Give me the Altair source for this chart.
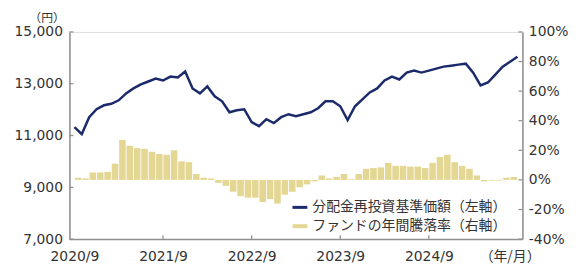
import altair as alt
import pandas as pd

# ---------------- data ----------------
# monthly index 0 = 2020/9 ... 60 = 2025/9
nav_month = list(range(61))
nav_values = [
    11325, 11057, 11708, 12014, 12167, 12225, 12359, 12627, 12818, 12971,
    13086, 13201, 13124, 13277, 13239, 13469, 12818, 12627, 12895, 12512,
    12320, 11899, 11976, 12014, 11517, 11363, 11631, 11478, 11708, 11823,
    11746, 11823, 11899, 12052, 12320, 12320, 12129, 11593, 12129, 12397,
    12665, 12818, 13124, 13277, 13163, 13430, 13507, 13430, 13507, 13584,
    13660, 13698, 13737, 13775, 13430, 12933, 13048, 13354, 13660, 13852,
    14043,
]
rate_month = list(range(60))
rate_values = [
    1.5, 1.0, 5.0, 5.0, 5.5, 11.0, 27.0, 23.0, 21.5, 21.0,
    19.0, 17.5, 17.0, 20.0, 12.5, 12.0, 4.0, 1.5, 1.0, -2.0,
    -4.0, -8.0, -11.0, -12.0, -12.0, -15.0, -13.0, -16.0, -10.0, -8.0,
    -5.0, -3.0, -1.0, 3.0, 1.0, 2.0, 4.0, 0.5, 4.0, 7.5,
    8.0, 8.5, 11.5, 9.5, 9.5, 9.0, 9.0, 8.0, 11.5, 15.5,
    17.0, 12.0, 9.5, 7.5, 3.0, -1.0, -0.5, -0.5, 1.5, 2.0,
]
x_tick_months = [0, 12, 24, 36, 48]
x_tick_labels = ["2020/9", "2021/9", "2022/9", "2023/9", "2024/9"]
left_ticks = [7000, 9000, 11000, 13000, 15000]
right_ticks = [-40, -20, 0, 20, 40, 60, 80, 100]
legend_labels = ["分配金再投資基準価額（左軸）", "ファンドの年間騰落率（右軸）"]
left_title = "（円）"
x_unit = "（年/月）"

# ---------------- style ----------------
W, H = 457, 209
NAVY = "#1b2a6b"
GOLD = "#e4d794"
AXIS = "#8f8f8f"
TXT = "#333333"
NUM_FONT = "DejaVu Sans"
JP_FONT = "Noto Sans CJK JP"

nav_df = pd.DataFrame({"m": nav_month, "nav": nav_values})
rate_df = pd.DataFrame({"m": rate_month, "rate": rate_values})
rate_df["mid"] = rate_df["m"] + 0.5

x_scale = alt.Scale(domain=[0, 60], nice=False, zero=False)
left_scale = alt.Scale(domain=[7000, 15000], nice=False, zero=False)
right_scale = alt.Scale(domain=[-40, 100], nice=False)

# build x label expression from the tick lists
label_expr = "''"
for mval, lab in reversed(list(zip(x_tick_months, x_tick_labels))):
    label_expr = "datum.value == {} ? '{}' : ({})".format(mval, lab, label_expr)

x_axis = alt.Axis(
    values=x_tick_months, labelExpr=label_expr, tickSize=0, labelPadding=11,
    domainColor=AXIS, domainWidth=1.5, grid=False, title=None,
    labelFont=NUM_FONT, labelFontSize=14, labelColor=TXT, labelFlush=False,
    labelOverlap=False,
)
left_axis = alt.Axis(
    orient="left", values=left_ticks, labelExpr="format(datum.value, ',')",
    tickSize=0, labelPadding=7,
    domainColor=AXIS, domainWidth=1.5, grid=False,
    labelFont=NUM_FONT, labelFontSize=14, labelColor=TXT,
    title=left_title, titleAngle=0, titleX=-23, titleY=-15,
    titleAlign="center", titleBaseline="middle", titleFont=JP_FONT,
    titleFontSize=12, titleFontWeight="normal", titleColor=TXT,
)
right_axis = alt.Axis(
    orient="right", values=right_ticks, labelExpr="datum.value + '%'",
    tickSize=0, labelPadding=6, domainColor=AXIS, domainWidth=1.5, grid=False,
    labelFont=NUM_FONT, labelFontSize=14, labelColor=TXT, title=None,
)

bars = alt.Chart(rate_df).mark_bar(color=GOLD, size=6.6).encode(
    x=alt.X("mid:Q", scale=x_scale, axis=x_axis),
    y=alt.Y("rate:Q", scale=right_scale, axis=right_axis),
    y2=alt.datum(0),
)

line = alt.Chart(nav_df).mark_line(color=NAVY, strokeWidth=2.5).encode(
    x=alt.X("m:Q", scale=x_scale, axis=x_axis),
    y=alt.Y("nav:Q", scale=left_scale, axis=left_axis),
)

left_tick_layer = alt.Chart(pd.DataFrame({"v": left_ticks})).mark_rule(
    color=AXIS, strokeWidth=1.2
).encode(
    y=alt.Y("v:Q", scale=left_scale, axis=None),
    x=alt.value(0), x2=alt.value(4),
)
right_tick_layer = alt.Chart(pd.DataFrame({"v": right_ticks})).mark_rule(
    color=AXIS, strokeWidth=1.2
).encode(
    y=alt.Y("v:Q", scale=right_scale, axis=None),
    x=alt.value(W - 4), x2=alt.value(W),
)
x_tick_layer = alt.Chart(pd.DataFrame({"t": x_tick_months[1:]})).mark_rule(
    color=AXIS, strokeWidth=1.2
).encode(
    x=alt.X("t:Q", scale=x_scale, axis=x_axis),
    y=alt.value(H - 4), y2=alt.value(H),
)

unit_text = alt.Chart(pd.DataFrame({"t": [x_unit]})).mark_text(
    font=JP_FONT, fontSize=14, color=TXT, align="center", baseline="middle"
).encode(x=alt.datum(59), y=alt.value(H + 18), text="t:N")

leg1_sym = alt.Chart(pd.DataFrame({"a": [0]})).mark_rule(
    color=NAVY, strokeWidth=3
).encode(x=alt.value(225), x2=alt.value(240), y=alt.value(177))
leg2_sym = alt.Chart(pd.DataFrame({"a": [0]})).mark_rule(
    color=GOLD, strokeWidth=4
).encode(x=alt.value(225), x2=alt.value(240), y=alt.value(196))
leg1_txt = alt.Chart(pd.DataFrame({"t": [legend_labels[0]]})).mark_text(
    font=JP_FONT, fontSize=14, color=TXT, align="left", baseline="middle"
).encode(x=alt.value(245), y=alt.value(177), text="t:N")
leg2_txt = alt.Chart(pd.DataFrame({"t": [legend_labels[1]]})).mark_text(
    font=JP_FONT, fontSize=14, color=TXT, align="left", baseline="middle"
).encode(x=alt.value(245), y=alt.value(196), text="t:N")

chart = alt.layer(
    bars, line, left_tick_layer, right_tick_layer, x_tick_layer,
    unit_text, leg1_sym, leg2_sym, leg1_txt, leg2_txt,
).resolve_scale(y="independent").properties(
    width=W, height=H,
    autosize=alt.AutoSizeParams(type="none"),
    padding={"left": 62, "top": 23, "right": 48, "bottom": 26},
).configure_view(stroke=None).configure(background="white")

chart.save("out.html", embed_options={"renderer": "svg", "actions": False})
